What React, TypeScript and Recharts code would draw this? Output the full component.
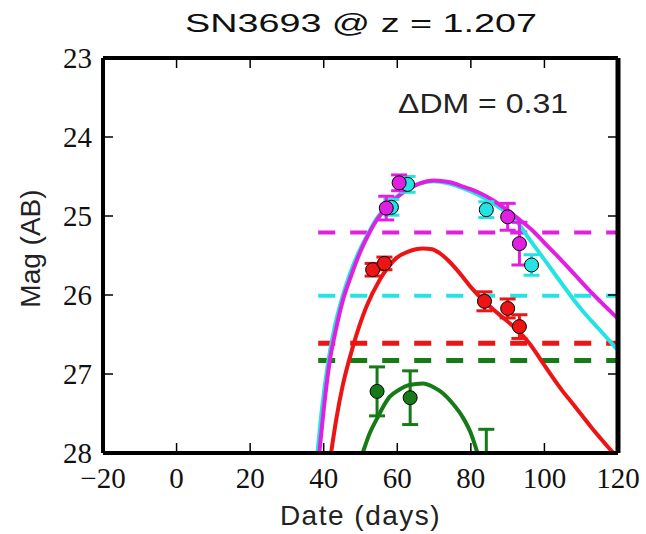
import { ComposedChart, Line, Scatter, ErrorBar, XAxis, YAxis } from "recharts"

// axis ticks
const xTicks = [-20, 0, 20, 40, 60, 80, 100, 120]
const yTicks = [23, 24, 25, 26, 27, 28]

// model light curves
const magentaCurve = [
    { x: 38.8, m: 28.0 }, { x: 40, m: 27.45 }, { x: 41.6, m: 26.85 }, { x: 43.5, m: 26.4 },
    { x: 45.2, m: 26.07 }, { x: 47.5, m: 25.75 }, { x: 49.7, m: 25.48 }, { x: 52, m: 25.25 },
    { x: 54.3, m: 25.06 }, { x: 57, m: 24.9 }, { x: 59.8, m: 24.77 }, { x: 63, m: 24.66 },
    { x: 66, m: 24.59 }, { x: 70, m: 24.55 }, { x: 74, m: 24.57 }, { x: 78, m: 24.63 },
    { x: 82, m: 24.7 }, { x: 86, m: 24.8 }, { x: 90, m: 24.93 }, { x: 93, m: 25.04 },
    { x: 96.7, m: 25.18 }, { x: 100, m: 25.34 }, { x: 104, m: 25.53 }, { x: 108, m: 25.73 },
    { x: 113, m: 25.98 }, { x: 120, m: 26.3 },
]
const cyanCurve = [
    { x: 38.3, m: 28.0 }, { x: 39.5, m: 27.45 }, { x: 41.2, m: 26.85 }, { x: 43, m: 26.4 },
    { x: 44.8, m: 26.07 }, { x: 47, m: 25.75 }, { x: 49.3, m: 25.48 }, { x: 52, m: 25.23 },
    { x: 54.3, m: 25.04 }, { x: 57, m: 24.88 }, { x: 60, m: 24.75 }, { x: 63, m: 24.65 },
    { x: 66, m: 24.59 }, { x: 70, m: 24.56 }, { x: 74, m: 24.59 }, { x: 78, m: 24.65 },
    { x: 82, m: 24.73 }, { x: 86, m: 24.84 }, { x: 90, m: 24.97 }, { x: 93, m: 25.1 },
    { x: 96, m: 25.3 }, { x: 99.5, m: 25.52 }, { x: 104, m: 25.81 }, { x: 110, m: 26.18 },
    { x: 115, m: 26.44 }, { x: 120, m: 26.7 },
]
const redCurve = [
    { x: 42, m: 28.0 }, { x: 43.5, m: 27.55 }, { x: 45.1, m: 27.16 }, { x: 47.9, m: 26.66 },
    { x: 51.6, m: 26.15 }, { x: 55.2, m: 25.81 }, { x: 59.8, m: 25.53 }, { x: 63, m: 25.45 },
    { x: 66.9, m: 25.41 }, { x: 69.5, m: 25.42 }, { x: 71.5, m: 25.47 }, { x: 74, m: 25.57 },
    { x: 76.9, m: 25.72 }, { x: 80, m: 25.9 }, { x: 83.2, m: 26.06 }, { x: 86.5, m: 26.2 },
    { x: 89.6, m: 26.32 }, { x: 93, m: 26.46 }, { x: 95.9, m: 26.61 }, { x: 99, m: 26.82 },
    { x: 102.2, m: 27.04 }, { x: 105, m: 27.22 }, { x: 107.6, m: 27.37 }, { x: 113, m: 27.69 },
    { x: 118.7, m: 28.0 },
]
const greenCurve = [
    { x: 50.6, m: 28.0 }, { x: 52.5, m: 27.75 }, { x: 54.3, m: 27.58 }, { x: 57.9, m: 27.29 },
    { x: 60.5, m: 27.2 }, { x: 63.3, m: 27.14 }, { x: 66.9, m: 27.12 }, { x: 70, m: 27.17 },
    { x: 72.3, m: 27.24 }, { x: 75, m: 27.37 }, { x: 77.7, m: 27.54 }, { x: 80, m: 27.75 },
    { x: 81.8, m: 28.0 },
]

// detection limits (dashed)
const magentaLimit = [{ x: 38.5, m: 25.21 }, { x: 120, m: 25.21 }]
const cyanLimit = [{ x: 38.5, m: 26.01 }, { x: 120, m: 26.01 }]
const redLimit = [{ x: 38.5, m: 26.61 }, { x: 120, m: 26.61 }]
const greenLimit = [{ x: 38.5, m: 26.83 }, { x: 120, m: 26.83 }]

// photometry, err = [down, up] in mag
const magentaPts = [
    { x: 57, m: 24.9, err: [0.15, 0.15] }, { x: 60.5, m: 24.58, err: [0.1, 0.1] },
    { x: 90, m: 25.01, err: [0.17, 0.17] }, { x: 93.2, m: 25.35, err: [0.27, 0.27] },
]
const cyanPts = [
    { x: 58.4, m: 24.89, err: [0.1, 0.1] }, { x: 62.8, m: 24.6, err: [0.1, 0.1] },
    { x: 84.2, m: 24.92, err: [0.1, 0.1] }, { x: 96.5, m: 25.62, err: [0.13, 0.13] },
]
const redPts = [
    { x: 53.3, m: 25.68, err: [0.08, 0.08] }, { x: 56.5, m: 25.6, err: [0.08, 0.08] },
    { x: 83.7, m: 26.08, err: [0.12, 0.12] }, { x: 90, m: 26.17, err: [0.12, 0.12] },
    { x: 93.2, m: 26.4, err: [0.15, 0.15] },
]
// last point lies below the axis; its bar is cut at the frame (28)
const greenPts = [
    { x: 54.5, m: 27.22, err: [0.31, 0.31] }, { x: 63.5, m: 27.3, err: [0.34, 0.34] },
    { x: 84.2, m: 28.35, err: [0.65, -0.35] },
]

const MAGENTA = "#e11fe1"
const CYAN = "#26e3e3"
const RED = "#ec1414"
const GREEN = "#167a16"

const Y_MAX = 28

const dot = (color: string) => (p: any) =>
    p.payload.m > Y_MAX ? <g /> : <circle cx={p.cx} cy={p.cy} r={7} fill={color} stroke="#000" strokeWidth={1} />

const fmtX = (v: number) => (v < 0 ? `\u2212${-v}` : `${v}`)

const tickFont = { fontFamily: "Liberation Serif", fontSize: 29, fill: "#111" }
const TICK = 10

// inward ticks drawn together with their labels
const BottomTick = ({ x, y, payload }: any) => (
    <g>
        <line x1={x} y1={y - 35} x2={x} y2={y - 35 - TICK} stroke="#000" strokeWidth={1.5} />
        <text x={x} y={y} textAnchor="middle" {...tickFont}>{fmtX(payload.value)}</text>
    </g>
)
const LeftTick = ({ x, y, payload }: any) => (
    <g>
        <line x1={x + 11} y1={y} x2={x + 11 + TICK} y2={y} stroke="#000" strokeWidth={1.5} />
        <text x={x} y={y + 10} textAnchor="end" {...tickFont}>{payload.value}</text>
    </g>
)
const TopTick = ({ x, y }: any) => <line x1={x} y1={y} x2={x} y2={y + TICK} stroke="#000" strokeWidth={1.5} />
const RightTick = ({ x, y }: any) => <line x1={x} y1={y} x2={x - TICK} y2={y} stroke="#000" strokeWidth={1.5} />

const YLabel = ({ viewBox }: any) => {
    const cx = viewBox.x + 30
    const cy = viewBox.y + viewBox.height / 2 - 7
    return (
        <text x={cx} y={cy} transform={`rotate(-90, ${cx}, ${cy})`} textAnchor="middle" dominantBaseline="central"
            fontFamily="Liberation Sans" fontSize={28} fill="#222">
            Mag (AB)
        </text>
    )
}

const XLabel = ({ viewBox }: any) => {
    const cx = viewBox.x + viewBox.width / 2
    return (
        <text x={cx} y={viewBox.y + 72} textAnchor="middle" fontFamily="Liberation Sans" fontSize={28}
            letterSpacing={1.5} fill="#222">
            Date (days)
        </text>
    )
}

export default function App() {
    const limits = [
        { data: magentaLimit, color: MAGENTA, w: 4 },
        { data: cyanLimit, color: CYAN, w: 4 },
        { data: redLimit, color: RED, w: 5 },
        { data: greenLimit, color: GREEN, w: 5 },
    ]
    const curves = [
        { data: greenCurve, color: GREEN },
        { data: redCurve, color: RED },
        { data: cyanCurve, color: CYAN },
        { data: magentaCurve, color: MAGENTA },
    ]
    const points = [
        { data: greenPts, color: GREEN },
        { data: redPts, color: RED },
        { data: cyanPts, color: CYAN },
        { data: magentaPts, color: MAGENTA },
    ]

    return (
        <div style={{ position: "absolute", left: 0, top: 0, width: 646, height: 534, background: "#fff" }}>
            <ComposedChart width={646} height={534} margin={{ top: 57, right: 27, bottom: 0, left: 0 }}>
                <XAxis xAxisId="b" dataKey="x" type="number" domain={[-20, 120]} ticks={xTicks} height={81}
                    tickSize={0} tickMargin={35} tick={<BottomTick />} tickLine={false}
                    axisLine={{ stroke: "#000", strokeWidth: 4 }}
                    allowDataOverflow label={<XLabel />} />
                <XAxis xAxisId="t" orientation="top" dataKey="x" type="number" domain={[-20, 120]} ticks={xTicks}
                    height={1} tickSize={0} tickMargin={0} tick={<TopTick />} tickLine={false}
                    axisLine={{ stroke: "#000", strokeWidth: 4 }} allowDataOverflow />
                <YAxis yAxisId="l" dataKey="m" type="number" domain={[23, 28]} ticks={yTicks} reversed width={103}
                    tickSize={0} tickMargin={11} tick={<LeftTick />} tickLine={false}
                    axisLine={{ stroke: "#000", strokeWidth: 4 }}
                    allowDataOverflow label={<YLabel />} />
                <YAxis yAxisId="r" orientation="right" dataKey="m" type="number" domain={[23, 28]} ticks={yTicks}
                    reversed width={1} tickSize={0} tickMargin={0} tick={<RightTick />} tickLine={false}
                    axisLine={{ stroke: "#000", strokeWidth: 5 }} allowDataOverflow />

                {limits.map((l, i) => (
                    <Line key={`lim${i}`} xAxisId="b" yAxisId="l" data={l.data} dataKey="m" type="linear"
                        stroke={l.color} strokeWidth={l.w} strokeDasharray="17 15" dot={false}
                        activeDot={false} isAnimationActive={false} legendType="none" />
                ))}
                {curves.map((c, i) => (
                    <Line key={`cur${i}`} xAxisId="b" yAxisId="l" data={c.data} dataKey="m" type="monotone"
                        stroke={c.color} strokeWidth={4} dot={false} activeDot={false}
                        isAnimationActive={false} legendType="none" />
                ))}
                {points.map((p, i) => (
                    <Scatter key={`pts${i}`} xAxisId="b" yAxisId="l" data={p.data} dataKey="m"
                        shape={dot(p.color)} isAnimationActive={false} legendType="none">
                        <ErrorBar dataKey="err" direction="y" width={8} stroke={p.color} strokeWidth={3}
                            isAnimationActive={false} />
                    </Scatter>
                ))}
            </ComposedChart>
            <svg width={646} height={534} style={{ position: "absolute", left: 0, top: 0, pointerEvents: "none" }}>
                <text x={361} y={32} textAnchor="middle" fontFamily="Liberation Sans" fontSize={26}
                    textLength={352} lengthAdjust="spacingAndGlyphs" fill="#111">
                    SN3693 @ z = 1.207
                </text>
                <text x={483} y={113} textAnchor="middle" fontFamily="Liberation Sans" fontSize={28}
                    textLength={170} lengthAdjust="spacingAndGlyphs" fill="#222">
                    ΔDM = 0.31
                </text>
            </svg>
        </div>
    )
}
